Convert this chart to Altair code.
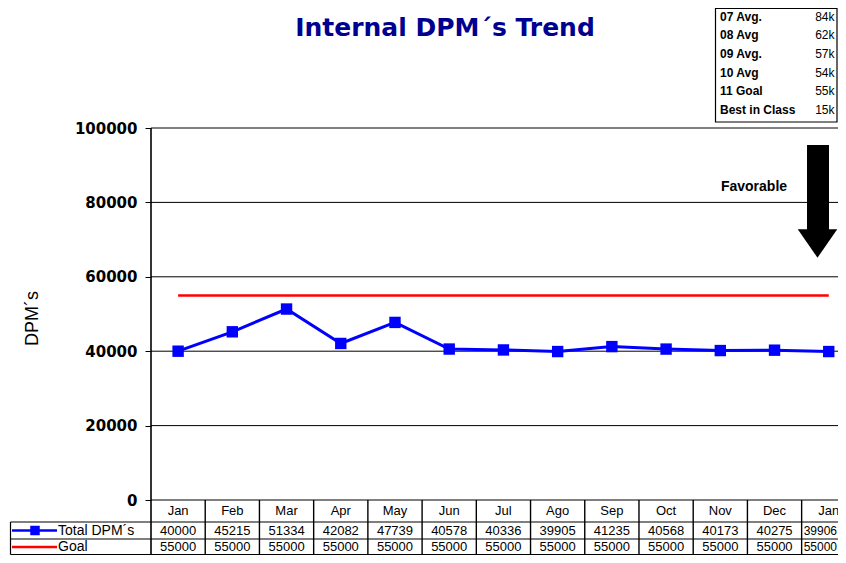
import altair as alt
import pandas as pd

# ---------------- data ----------------
months = ["Jan", "Feb", "Mar", "Apr", "May", "Jun", "Jul", "Ago", "Sep", "Oct", "Nov", "Dec", "Jan"]
total_dpm = [40000, 45215, 51334, 42082, 47739, 40578, 40336, 39905, 41235, 40568, 40173, 40275, 39906]
goal = [55000, 55000, 55000, 55000, 55000, 55000, 55000, 55000, 55000, 55000, 55000, 55000, 55000]
y_ticks = [0, 20000, 40000, 60000, 80000, 100000]
summary_labels = ["07 Avg.", "08 Avg", "09 Avg.", "10 Avg", "11 Goal", "Best in Class"]
summary_values = ["84k", "62k", "57k", "54k", "55k", "15k"]
title_text = "Internal DPM´s Trend"
series_names = ["Total DPM´s", "Goal"]

# ---------------- layout helpers (screen px -> data units) ----------------
COL_W = 54.22
X0 = 151.0
PX_PER_V = 0.00372


def X(sx):
    return (sx - X0) / COL_W


def Y(sy):
    return (500.0 - sy) / PX_PER_V


W, H = 830, 547
RIGHT_EDGE = 8 + W
xscale = alt.Scale(domain=[X(8), X(RIGHT_EDGE)], nice=False, zero=False)
yscale = alt.Scale(domain=[Y(8 + H), Y(8)], nice=False, zero=False)

BLUE = "#0000FF"
RED = "#FF0000"
NAVY = "#000090"

# table row geometry (screen px)
ROW_H0, ROW_H1, ROW_2, ROW_3 = 500.0, 522.0, 539.0, 554.5
TY_MONTH, TY_TOTAL, TY_GOAL = 511.0, 530.5, 547.0
NUM_FS = 13
LAST_FS = 12

yaxis = alt.Axis(
    values=y_ticks, offset=-(X0 - 8), domain=False, grid=False,
    ticks=True, tickSize=6, tickColor="black", tickWidth=1,
    labelFont="DejaVu Sans", labelFontWeight="bold", labelFontSize=15,
    labelColor="black", labelPadding=8, format="d",
    title="DPM´s", titleFont="Liberation Sans", titleFontSize=18,
    titleFontWeight="normal", titleColor="black",
    titleX=-(X0 - 32), titleY=310, titleAlign="center", titleBaseline="middle",
)


def xe(field):
    return alt.X(field, scale=xscale, axis=None)


def ye(field):
    return alt.Y(field, scale=yscale, axis=yaxis)


n = len(months)
main = pd.DataFrame({
    "xc": [i + 0.5 for i in range(n)],
    "month": months,
    "total": total_dpm,
    "goal": goal,
})
# the last column is only partly visible: keep its numbers inside the picture
last_half_w = 5 * 0.556 * LAST_FS / 2 + 1.0
main["xt"] = [c if i < n - 1 else (X(RIGHT_EDGE - last_half_w)) for i, c in enumerate(main["xc"])]
main["fs"] = [NUM_FS if i < n - 1 else LAST_FS for i in range(n)]
main["total_s"] = [str(v) for v in total_dpm]
main["goal_s"] = [str(v) for v in goal]
main["ym"] = Y(TY_MONTH)
main["yt"] = Y(TY_TOTAL)
main["yg"] = Y(TY_GOAL)

# gridlines (carry the y axis)
grid_df = pd.DataFrame({"v": y_ticks, "x0": 0.0, "x1": 13.0})
grid = alt.Chart(grid_df).mark_rule(color="black", strokeWidth=1).encode(
    y=ye("v:Q"), x=xe("x0:Q"), x2="x1:Q",
)

# table / axis line segments
seg_rows = []
seg_rows.append((0.0, 0.0, Y(128), Y(ROW_3), 1.6))  # y axis line through table
for i in range(1, 14):
    seg_rows.append((float(i), float(i), 0.0, Y(ROW_3), 1.4))
for sy in [ROW_H1, ROW_2, ROW_3]:
    seg_rows.append((X(10.5), 13.0, Y(sy), Y(sy), 1.2))
seg_rows.append((X(10.5), X(10.5), Y(ROW_H1), Y(ROW_3), 1.2))
seg_df = pd.DataFrame(seg_rows, columns=["x0", "x1", "y0", "y1", "w"])
segs = alt.Chart(seg_df).mark_rule(color="black").encode(
    x=xe("x0:Q"), x2="x1:Q", y=ye("y0:Q"), y2="y1:Q",
    strokeWidth=alt.StrokeWidth("w:Q", scale=None, legend=None),
)

# goal line
goal_line = alt.Chart(main).mark_line(color=RED, strokeWidth=2.5).encode(
    x=xe("xc:Q"), y=ye("goal:Q"),
)

# total DPM line with square markers
total_line = alt.Chart(main).mark_line(
    color=BLUE, strokeWidth=3,
    point=alt.OverlayMarkDef(shape="square", size=130, filled=True, color=BLUE, opacity=1),
).encode(x=xe("xc:Q"), y=ye("total:Q"))

# table texts
txt_kw = dict(font="Liberation Sans", fontSize=NUM_FS, color="black", align="center", baseline="middle")
fs_enc = alt.Size("fs:Q", scale=None, legend=None)
month_txt = alt.Chart(main).mark_text(**txt_kw).encode(x=xe("xc:Q"), y=ye("ym:Q"), text="month:N")
total_txt = alt.Chart(main).mark_text(**txt_kw).encode(
    x=xe("xt:Q"), y=ye("yt:Q"), text="total_s:N", size=fs_enc)
goal_txt = alt.Chart(main).mark_text(**txt_kw).encode(
    x=xe("xt:Q"), y=ye("yg:Q"), text="goal_s:N", size=fs_enc)

# legend column in the table
leg_lines = pd.DataFrame({
    "x0": [X(12), X(12)], "x1": [X(57), X(57)],
    "y": [Y(TY_TOTAL), Y(TY_GOAL)], "c": [BLUE, RED], "w": [2.5, 2.5],
})
leg_rule = alt.Chart(leg_lines).mark_rule().encode(
    x=xe("x0:Q"), x2="x1:Q", y=ye("y:Q"),
    color=alt.Color("c:N", scale=None, legend=None),
    strokeWidth=alt.StrokeWidth("w:Q", scale=None, legend=None),
)
leg_mark = alt.Chart(pd.DataFrame({"x": [X(35)], "y": [Y(TY_TOTAL)]})).mark_point(
    shape="square", size=90, filled=True, color=BLUE, opacity=1).encode(x=xe("x:Q"), y=ye("y:Q"))
leg_txt = alt.Chart(pd.DataFrame({
    "x": [X(58), X(58)], "y": [Y(TY_TOTAL), Y(TY_GOAL)], "t": series_names,
})).mark_text(font="Liberation Sans", fontSize=14, color="black", align="left", baseline="middle").encode(
    x=xe("x:Q"), y=ye("y:Q"), text="t:N")

# title
title = alt.Chart(pd.DataFrame({"x": [X(445)], "y": [Y(28)], "t": [title_text]})).mark_text(
    font="DejaVu Sans", fontSize=25, fontWeight="bold", color=NAVY, align="center", baseline="middle"
).encode(x=xe("x:Q"), y=ye("y:Q"), text="t:N")

# summary box
box = alt.Chart(pd.DataFrame({"x0": [X(715.5)], "x1": [X(837)], "y0": [Y(8.5)], "y1": [Y(122)]})).mark_rect(
    fill="white", stroke="black", strokeWidth=1.2).encode(
    x=xe("x0:Q"), x2="x1:Q", y=ye("y0:Q"), y2="y1:Q")
row_y = [16.5, 35, 53.5, 72.5, 90.5, 110]
box_df = pd.DataFrame({
    "xl": [X(720)] * 6, "xr": [X(834.5)] * 6,
    "y": [Y(v) for v in row_y], "lab": summary_labels, "val": summary_values,
})
box_lab = alt.Chart(box_df).mark_text(font="Liberation Sans", fontSize=12, fontWeight="bold", color="black",
                                      align="left", baseline="middle").encode(
    x=xe("xl:Q"), y=ye("y:Q"), text="lab:N")
box_val = alt.Chart(box_df).mark_text(font="Liberation Sans", fontSize=12, color="black",
                                      align="right", baseline="middle").encode(
    x=xe("xr:Q"), y=ye("y:Q"), text="val:N")

# favorable arrow
fav_txt = alt.Chart(pd.DataFrame({"x": [X(754)], "y": [Y(187)], "t": ["Favorable"]})).mark_text(
    font="Liberation Sans", fontSize=14, fontWeight="bold", color="black", align="center", baseline="middle"
).encode(x=xe("x:Q"), y=ye("y:Q"), text="t:N")
shaft = alt.Chart(pd.DataFrame({"x0": [X(807)], "x1": [X(829)], "y0": [Y(145)], "y1": [Y(230)]})).mark_rect(
    color="black").encode(x=xe("x0:Q"), x2="x1:Q", y=ye("y0:Q"), y2="y1:Q")
head = alt.Chart(pd.DataFrame({"x": [X(817.5)], "y": [Y(243.5)]})).mark_point(
    shape="M-1,-0.72L1,-0.72L0,0.72Z", size=1560, filled=True, color="black", opacity=1, strokeWidth=0
).encode(x=xe("x:Q"), y=ye("y:Q"))

chart = alt.layer(
    grid, segs, goal_line, total_line, month_txt, total_txt, goal_txt,
    leg_rule, leg_mark, leg_txt, title, box, box_lab, box_val, fav_txt, shaft, head,
).properties(
    width=W, height=H,
    autosize=alt.AutoSizeParams(type="none"),
    padding=0,
).configure_view(stroke=None)

chart.save("out.html", embed_options={"renderer": "svg", "actions": False})
